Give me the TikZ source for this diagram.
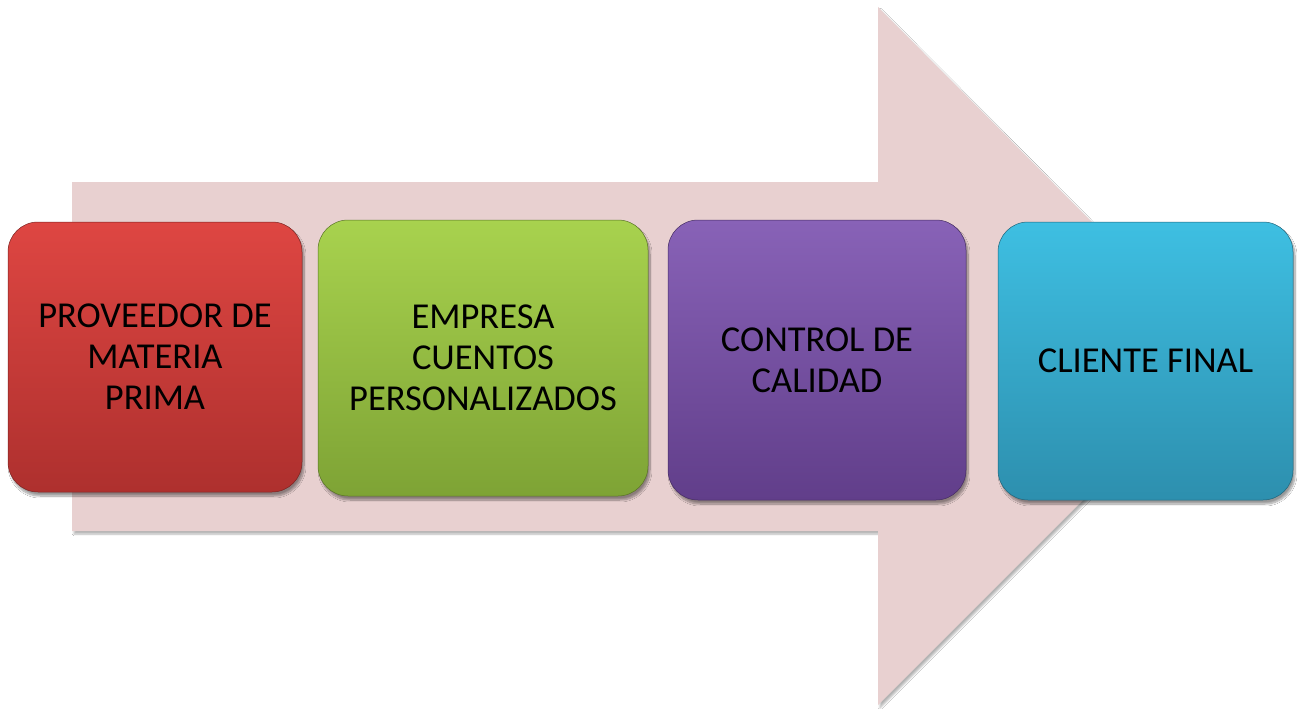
\documentclass[tikz,border=0pt]{standalone}
\usepackage{fontspec}
\setmainfont{Carlito}
\usetikzlibrary{shadows.blur}
\definecolor{arrowpink}{HTML}{E8D0D0}
\definecolor{redtop}{HTML}{DE4642}
\definecolor{redbot}{HTML}{AE302E}
\definecolor{greentop}{HTML}{A8D24E}
\definecolor{greenbot}{HTML}{7EA335}
\definecolor{purptop}{HTML}{8862B7}
\definecolor{purpbot}{HTML}{613E8A}
\definecolor{cyantop}{HTML}{3EBFE2}
\definecolor{cyanbot}{HTML}{2D8FAE}
\tikzset{
  stagebox/.style={rounded corners=30pt, inner sep=0pt, align=center,
    font=\fontsize{36.5}{41}\selectfont, text=black,
    blur shadow={shadow xshift=2pt, shadow yshift=-4pt, shadow blur steps=10, shadow opacity=40}},
}
\begin{document}
\begin{tikzpicture}[x=1pt,y=-1pt]
\useasboundingbox (0,0) rectangle (1301,709);
\fill[white] (0,0) rectangle (1301,709);
% big arrow
\fill[arrowpink, blur shadow={shadow xshift=2pt, shadow yshift=-3pt, shadow blur steps=6, shadow opacity=30}]
  (72,182) -- (878,182) -- (878,7) -- (1226,357) -- (878,705) -- (878,531) -- (72,531) -- cycle;
% stage boxes
\node[stagebox, minimum width=294pt, minimum height=270pt, top color=redtop, bottom color=redbot,
  draw=redbot!70!black, line width=0.5pt] (prov) at (155,357)
  {PROVEEDOR DE\\MATERIA\\PRIMA};
\node[stagebox, minimum width=330pt, minimum height=276pt, top color=greentop, bottom color=greenbot,
  draw=greenbot!70!black, line width=0.5pt] (emp) at (483,358)
  {EMPRESA\\CUENTOS\\PERSONALIZADOS};
\node[stagebox, minimum width=298pt, minimum height=280pt, top color=purptop, bottom color=purpbot,
  draw=purpbot!70!black, line width=0.5pt] (ctrl) at (817,360)
  {CONTROL DE\\CALIDAD};
\node[stagebox, minimum width=295pt, minimum height=278pt, top color=cyantop, bottom color=cyanbot,
  draw=cyanbot!70!black, line width=0.5pt] (cli) at (1145.5,361)
  {CLIENTE FINAL};
\end{tikzpicture}
\end{document}
